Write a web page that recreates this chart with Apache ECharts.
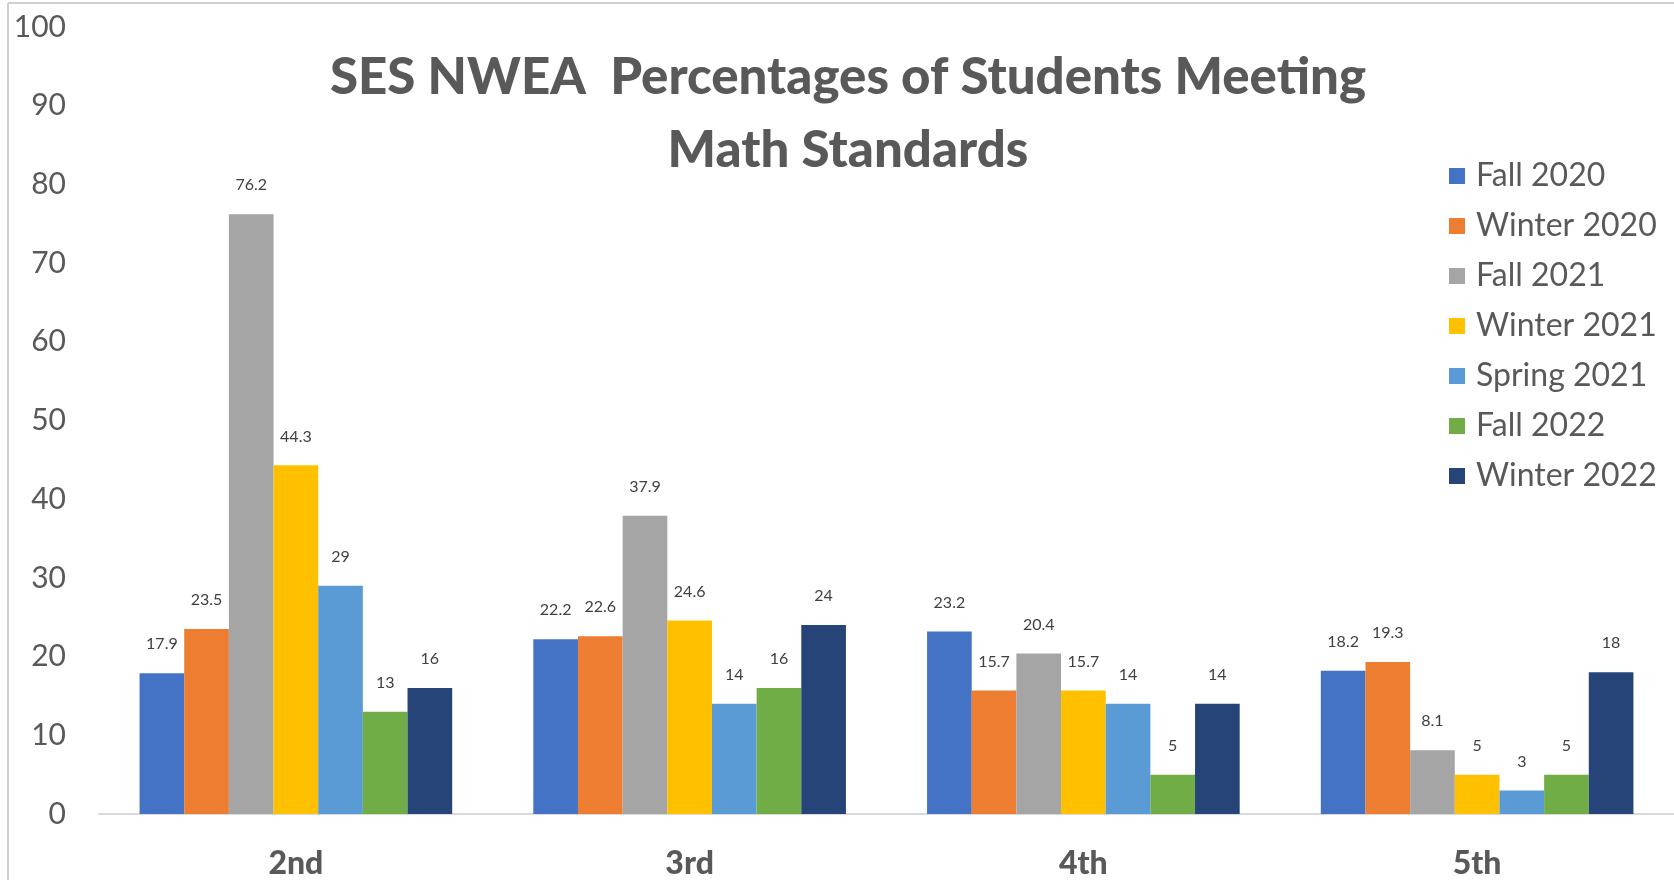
<!DOCTYPE html>
<html>
<head>
<meta charset="utf-8">
<script src="https://cdn.jsdelivr.net/npm/echarts@6/dist/echarts.min.js"></script>
<style>
  html, body { margin: 0; padding: 0; background: #fff; }
  #main { width: 1674px; height: 880px; }
</style>
</head>
<body>
<div id="main"></div>
<script>
    // grades on the x axis
    var grades = ['2nd', '3rd', '4th', '5th'];
    var seriesNames = ['Fall 2020', 'Winter 2020', 'Fall 2021', 'Winter 2021', 'Spring 2021', 'Fall 2022', 'Winter 2022'];
    var colors = ['#4472C4', '#ED7D31', '#A5A5A5', '#FFC000', '#5B9BD5', '#70AD47', '#264478'];

    // one array per test window, values per grade
    var fall2020 = [17.9, 22.2, 23.2, 18.2];
    var winter2020 = [23.5, 22.6, 15.7, 19.3];
    var fall2021 = [76.2, 37.9, 20.4, 8.1];
    var winter2021 = [44.3, 24.6, 15.7, 5];
    var spring2021 = [29, 14, 14, 3];
    var fall2022 = [13, 16, 5, 5];
    var winter2022 = [16, 24, 14, 18];

    var allValues = [fall2020, winter2020, fall2021, winter2021, spring2021, fall2022, winter2022];

    var font = 'Lato, "Open Sans", sans-serif';
    var chart = echarts.init(document.getElementById('main'));

    var series = seriesNames.map(function (name, i) {
        return {
            name: name,
            type: 'bar',
            data: allValues[i],
            barGap: 0,
            barCategoryGap: '20.6%',
            itemStyle: { color: colors[i] },
            label: {
                show: true,
                position: 'top',
                distance: 21,
                color: '#404040',
                fontFamily: font,
                fontSize: 16
            }
        };
    });

    var option = {
        backgroundColor: '#fff',
        animation: false,
        color: colors,
        title: {
            text: 'SES NWEA  Percentages of Students Meeting\nMath Standards',
            left: 843,
            top: 36,
            textAlign: 'center',
            textStyle: {
                color: '#595959',
                fontFamily: font,
                fontWeight: 900,
                fontSize: 51,
                lineHeight: 73
            }
        },
        legend: {
            orient: 'vertical',
            left: 1444,
            top: 155,
            itemWidth: 16,
            itemHeight: 16,
            itemGap: 18,
            icon: 'rect',
            textStyle: {
                color: '#595959',
                fontFamily: font,
                fontSize: 32,
                lineHeight: 32,
                padding: [0, 0, 0, 6]
            },
            data: seriesNames
        },
        grid: {
            left: 99,
            right: -2,
            top: 27,
            bottom: 66,
            containLabel: false
        },
        xAxis: {
            type: 'category',
            data: grades,
            axisTick: { show: false },
            axisLine: { lineStyle: { color: '#D9D9D9', width: 2 } },
            axisLabel: {
                color: '#595959',
                fontFamily: font,
                fontWeight: 900,
                fontSize: 32,
                margin: 34
            }
        },
        yAxis: {
            type: 'value',
            min: 0,
            max: 100,
            interval: 10,
            axisLine: { show: false },
            axisTick: { show: false },
            splitLine: { show: false },
            axisLabel: {
                color: '#595959',
                fontFamily: font,
                fontSize: 30,
                margin: 33
            }
        },
        graphic: [
            { type: 'line', shape: { x1: 8, y1: 3, x2: 8, y2: 880 }, style: { stroke: '#D0D0D0', lineWidth: 2 } },
            { type: 'line', shape: { x1: 8, y1: 3, x2: 1674, y2: 3 }, style: { stroke: '#D0D0D0', lineWidth: 2 } }
        ],
        series: series
    };

    chart.setOption(option);
</script>
</body>
</html>
